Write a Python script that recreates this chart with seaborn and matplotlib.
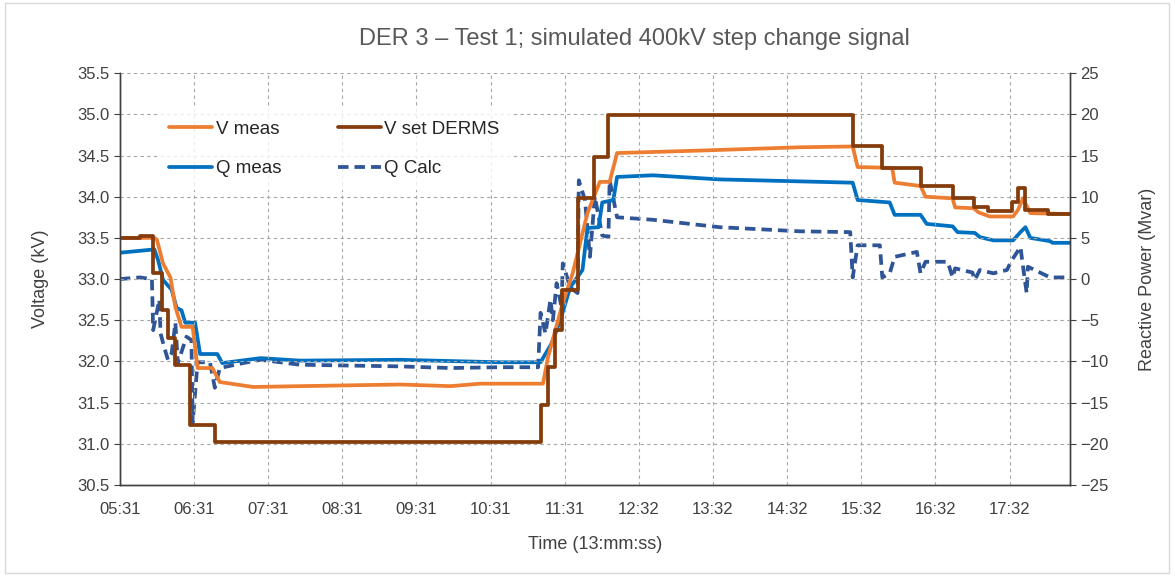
import numpy as np
import pandas as pd
import matplotlib.pyplot as plt
import seaborn as sns
from matplotlib.patches import Rectangle


# seconds after 13:05:31
VSET_T = [0, 16, 27, 34, 39, 45, 57, 77, 341, 347, 353, 358, 371, 384, 396,
          594, 618, 649, 675, 692, 704, 723, 728, 734, 752, 770]
VSET_KV = [33.50, 33.52, 33.07, 32.62, 32.28, 31.96, 31.23, 31.02, 31.47, 31.93,
           32.38, 32.87, 33.98, 34.48, 34.99, 34.62, 34.35, 34.13, 33.98, 33.87,
           33.83, 33.93, 34.10, 33.84, 33.79, 33.79]

VMEAS_T = [0, 28, 30, 35, 41, 45, 50, 59, 63, 75, 81, 108, 146, 186, 227, 268,
           292, 343, 347, 359, 367, 379, 389, 397, 403, 470, 551, 594, 598, 626,
           628, 649, 653, 675, 677, 692, 696, 705, 724, 728, 732, 738, 770]
VMEAS_KV = [33.50, 33.50, 33.48, 33.19, 33.02, 32.66, 32.42, 32.42, 31.92, 31.92,
            31.75, 31.69, 31.70, 31.71, 31.72, 31.70, 31.73, 31.73, 32.05, 32.71,
            33.07, 33.80, 34.18, 34.18, 34.53, 34.56, 34.60, 34.61, 34.36, 34.35,
            34.17, 34.13, 34.00, 33.98, 33.87, 33.86, 33.81, 33.76, 33.76, 33.84,
            33.98, 33.80, 33.79]

QMEAS_T = [0, 28, 31, 35, 42, 46, 50, 53, 61, 65, 79, 83, 114, 146, 227, 308,
           341, 350, 357, 365, 375, 379, 388, 391, 400, 403, 432, 486, 568, 594,
           598, 624, 628, 649, 654, 675, 679, 693, 697, 708, 724, 730, 734, 738,
           754, 756, 770]
QMEAS_MVAR = [3.2, 3.6, 2.3, -0.1, -1.3, -3.5, -3.8, -5.3, -5.3, -9.1, -9.1, -10.2,
              -9.6, -9.9, -9.8, -10.1, -10.1, -7.8, -5.0, -1.0, 1.1, 6.2, 6.3, 9.3,
              9.6, 12.4, 12.6, 12.1, 11.8, 11.7, 9.6, 9.3, 7.8, 7.8, 6.7, 6.4, 5.7,
              5.6, 5.1, 4.7, 4.7, 5.7, 6.3, 5.0, 4.6, 4.4, 4.4]

QCALC_T = [0, 16, 26, 27, 32, 33, 36, 39, 42, 45, 47, 54, 58, 59, 63, 73, 77, 81,
           100, 114, 146, 186, 227, 268, 308, 339, 341, 345, 349, 351, 354, 358,
           359, 365, 371, 372, 377, 381, 385, 391, 396, 397, 403, 432, 486, 551,
           592, 594, 598, 616, 618, 624, 628, 646, 649, 653, 671, 675, 677, 691,
           693, 697, 708, 719, 723, 730, 731, 735, 736, 754, 770]
QCALC_MVAR = [0.0, 0.2, 0.0, -6.2, -2.5, -6.6, -8.3, -9.8, -9.0, -5.3, -10.2, -7.0,
              -7.4, -17.5, -10.1, -10.1, -13.2, -10.8, -10.2, -9.8, -10.4, -10.5,
              -10.6, -10.8, -10.7, -10.7, -4.1, -6.6, -2.5, -5.0, -0.5, -3.4, 1.9,
              -1.0, -1.7, 12.0, 9.6, 2.7, 10.0, 5.3, 5.1, 12.0, 7.5, 7.2, 6.3, 5.8,
              5.7, 0.2, 4.1, 4.1, 0.2, 0.7, 2.7, 3.3, 0.7, 2.1, 2.1, 0.2, 1.3, 0.8,
              -0.1, 1.1, 0.7, 1.1, 2.3, 3.9, 2.7, -1.7, 1.5, 0.2, 0.2]

TICK_LABELS = ["05:31", "06:31", "07:31", "08:31", "09:31", "10:31", "11:31",
               "12:32", "13:32", "14:32", "15:32", "16:32", "17:32"]

C_VMEAS = "#ED7D31"
C_VSET = "#843C0C"
C_QMEAS = "#0070C0"
C_QCALC = "#2F5597"
TEXT = "#404040"
LW = 2.7


def main() -> None:
    sns.set_theme(style="white")
    plt.rcParams["font.family"] = ["Liberation Sans Narrow", "Liberation Sans", "DejaVu Sans"]

    fig = plt.figure(figsize=(11.75, 5.76), dpi=100)
    ax = fig.add_axes([0.102, 0.158, 0.8085, 0.715])
    ax2 = ax.twinx()

    vmeas = pd.DataFrame({"t": VMEAS_T, "v": VMEAS_KV})
    vset = pd.DataFrame({"t": VSET_T, "v": VSET_KV})
    qmeas = pd.DataFrame({"t": QMEAS_T, "q": QMEAS_MVAR})
    qcalc = pd.DataFrame({"t": QCALC_T, "q": QCALC_MVAR})

    sns.lineplot(data=qcalc, x="t", y="q", ax=ax2, color=C_QCALC, lw=LW,
                 linestyle=(0, (2.8, 1.6)), label="Q Calc")
    sns.lineplot(data=qmeas, x="t", y="q", ax=ax2, color=C_QMEAS, lw=LW, label="Q meas")
    sns.lineplot(data=vmeas, x="t", y="v", ax=ax, color=C_VMEAS, lw=LW, label="V meas")
    sns.lineplot(data=vset, x="t", y="v", ax=ax, color=C_VSET, lw=LW,
                 drawstyle="steps-post", label="V set DERMS")

    # voltage lines on top of the reactive power lines
    ax.set_zorder(ax2.get_zorder() + 1)
    ax.patch.set_visible(False)

    ax.set_xlim(0, 770)
    ax.set_ylim(30.5, 35.5)
    ax2.set_ylim(-25, 25)
    ax.set_yticks(np.arange(30.5, 35.51, 0.5))
    ax.set_yticklabels([f"{v:.1f}" for v in np.arange(30.5, 35.51, 0.5)])
    ax2.set_yticks(np.arange(-25, 26, 5))
    ax.set_xticks(np.arange(len(TICK_LABELS)) * 60.1)
    ax.set_xticklabels(TICK_LABELS)

    for a in (ax, ax2):
        a.tick_params(labelsize=12, colors=TEXT, length=4, width=0.8)
        for s in a.spines.values():
            s.set_color("#404040")
            s.set_linewidth(1.0)
        a.spines["top"].set_visible(False)
    ax.tick_params(axis="x", length=0, pad=12)

    ax.grid(True, which="major", axis="both", color="#A6A6A6", ls=(0, (3, 3)), lw=0.8)
    ax.set_axisbelow(True)

    ax.set_xlabel("Time (13:mm:ss)", fontsize=13, color=TEXT, labelpad=14)
    ax.set_ylabel("Voltage (kV)", fontsize=13, color=TEXT, labelpad=20)
    ax2.set_ylabel("Reactive Power (Mvar)", fontsize=13, color=TEXT, labelpad=22)

    fig.text(0.54, 0.932, "DER 3 \u2013 Test 1; simulated 400kV step change signal",
             ha="center", va="center", fontsize=17, color="#595959")

    h1, l1 = ax.get_legend_handles_labels()
    h2, l2 = ax2.get_legend_handles_labels()
    handles = {**dict(zip(l1, h1)), **dict(zip(l2, h2))}
    order = ["V meas", "Q meas", "V set DERMS", "Q Calc"]
    if ax2.get_legend():
        ax2.get_legend().remove()
    leg = ax.legend([handles[k] for k in order], order, ncol=2, loc="upper left",
                    bbox_to_anchor=(0.03, 0.935), frameon=True, fontsize=13.5,
                    handlelength=2.3, handletextpad=0.2, columnspacing=3.0,
                    labelspacing=1.2, borderpad=0.6)
    leg.get_frame().set_facecolor("white")
    leg.get_frame().set_edgecolor("white")
    for t in leg.get_texts():
        t.set_color("#262626")

    fig.patches.append(Rectangle((0.004, 0.006), 0.991, 0.988, transform=fig.transFigure,
                                 fill=False, edgecolor="#D9D9D9", lw=1.0))

    fig.savefig("out.png", dpi=100)
    plt.close(fig)


if __name__ == "__main__":
    main()
